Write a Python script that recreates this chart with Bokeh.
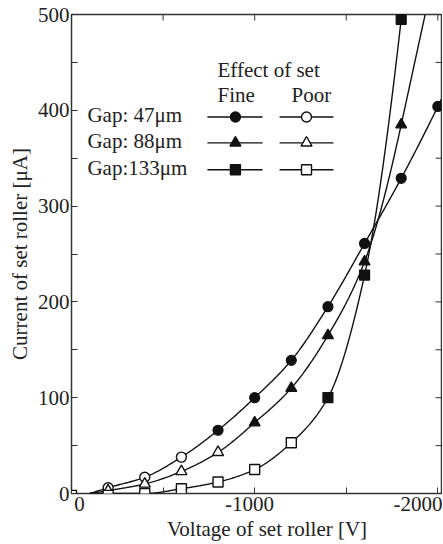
import numpy as np
from bokeh.plotting import figure
from bokeh.models import Range1d, FixedTicker
from bokeh.core.properties import value
from bokeh.embed import file_html
from bokeh.resources import INLINE

# ---------------- data ----------------
g47_poor_v = [-200, -400, -600]
g47_poor_i = [6, 17, 38]
g47_fine_v = [-800, -1000, -1200, -1400, -1600, -1800, -2000]
g47_fine_i = [66, 100, 139, 195, 261, 329, 404]

g88_poor_v = [-200, -400, -600, -800]
g88_poor_i = [3, 10, 23, 43]
g88_fine_v = [-1000, -1200, -1400, -1600, -1800]
g88_fine_i = [74, 110, 165, 242, 385]

g133_poor_v = [0, -200, -400, -600, -800, -1000, -1200]
g133_poor_i = [-2, -2, 0, 5, 12, 25, 53]
g133_fine_v = [-1400, -1600, -1800]
g133_fine_i = [100, 228, 495]

fit_start_v = -100          # fitted curves start here at 0 uA

series_names = ["Gap: 47\u03bcm", "Gap: 88\u03bcm", "Gap:133\u03bcm"]
legend_title = "Effect of set"
legend_cols = ["Fine", "Poor"]

x_ticks = [0, -500, -1000, -1500, -2000]
x_tick_labels = {0: "0", -500: "", -1000: "-1000", -1500: "", -2000: "-2000"}
y_ticks = [0, 100, 200, 300, 400, 500]
y_minor = [50, 150, 250, 350, 450]

FONT = "Liberation Serif"
INK = "#111111"
TXT = "#222222"
NB = "\u00a0"
# non-breaking padding nudges the centred tick labels like the original typesetting
x_label_pad = {0: (3, 0), -1000: (0, 2)}


def pchip(xk, yk, xs):
    xk = np.asarray(xk, float)
    yk = np.asarray(yk, float)
    h = np.diff(xk)
    d = np.diff(yk) / h
    n = len(xk)
    m = np.zeros(n)
    for k in range(1, n - 1):
        if d[k - 1] * d[k] > 0:
            w1 = 2 * h[k] + h[k - 1]
            w2 = h[k] + 2 * h[k - 1]
            m[k] = (w1 + w2) / (w1 / d[k - 1] + w2 / d[k])

    def endslope(h0, h1, d0, d1):
        s = ((2 * h0 + h1) * d0 - h0 * d1) / (h0 + h1)
        if np.sign(s) != np.sign(d0):
            s = 0.0
        elif np.sign(d0) != np.sign(d1) and abs(s) > abs(3 * d0):
            s = 3 * d0
        return s

    m[0] = endslope(h[0], h[1], d[0], d[1])
    m[-1] = endslope(h[-1], h[-2], d[-1], d[-2])
    out = []
    for x in xs:
        if x >= xk[-1]:
            out.append(yk[-1] + m[-1] * (x - xk[-1]))
            continue
        i = min(max(np.searchsorted(xk, x) - 1, 0), n - 2)
        t = (x - xk[i]) / h[i]
        h00 = 2 * t**3 - 3 * t**2 + 1
        h10 = t**3 - 2 * t**2 + t
        h01 = -2 * t**3 + 3 * t**2
        h11 = t**3 - t**2
        out.append(h00 * yk[i] + h10 * h[i] * m[i] + h01 * yk[i + 1] + h11 * h[i] * m[i + 1])
    return np.array(out)


X_END = -2020
Y_END = 500
p = figure(width=442, height=543, x_range=Range1d(0, X_END), y_range=Range1d(0, Y_END),
           output_backend="svg", toolbar_location=None,
           min_border_left=71, min_border_right=1, min_border_top=14, min_border_bottom=49)
p.grid.visible = False
p.outline_line_color = "#333333"
p.outline_line_width = 1.5
p.background_fill_color = "white"
p.border_fill_color = "white"

# bottom axis
xa = p.xaxis[0]
xa.ticker = FixedTicker(ticks=x_ticks, minor_ticks=[])
overrides = {}
for t, s in x_tick_labels.items():
    lpad, rpad = x_label_pad.get(t, (0, 0))
    overrides[t] = NB * lpad + s + NB * rpad
xa.major_label_overrides = overrides
xa.axis_line_color = None
xa.major_tick_in = 6
xa.major_tick_out = 0
xa.major_tick_line_color = "#333333"
xa.major_label_text_font = FONT
xa.major_label_text_font_size = "21px"
xa.major_label_text_color = TXT
xa.major_label_standoff = -2
xa.axis_label = NB * 4 + "Voltage of set roller [V]"
xa.axis_label_text_font = FONT
xa.axis_label_text_font_size = "21px"
xa.axis_label_text_font_style = "normal"
xa.axis_label_text_color = TXT
xa.axis_label_standoff = -2

# left axis
ya = p.yaxis[0]
ya.ticker = FixedTicker(ticks=y_ticks, minor_ticks=y_minor)
ya.axis_line_color = None
ya.major_tick_in = 6
ya.major_tick_out = 0
ya.minor_tick_in = 6
ya.minor_tick_out = 0
ya.major_tick_line_color = "#333333"
ya.minor_tick_line_color = "#333333"
ya.major_label_text_font = FONT
ya.major_label_text_font_size = "21px"
ya.major_label_text_color = TXT
ya.major_label_standoff = 2
ya.axis_label = "Current of set roller [\u03bcA]"
ya.axis_label_text_font = FONT
ya.axis_label_text_font_size = "21px"
ya.axis_label_text_font_style = "normal"
ya.axis_label_text_color = TXT
ya.axis_label_standoff = 3

# mirrored inward ticks on the top and right frame edges (half of each dash is clipped)
p.scatter([X_END] * len(y_ticks + y_minor), y_ticks + y_minor, marker="dash", size=12,
          line_color="#333333", line_width=1)
p.scatter(x_ticks, [Y_END] * len(x_ticks), marker="dash", size=12, angle=np.pi / 2,
          line_color="#333333", line_width=1)

# ---------------- curves and points ----------------
series = [
    (g47_poor_v, g47_poor_i, g47_fine_v, g47_fine_i, "circle"),
    (g88_poor_v, g88_poor_i, g88_fine_v, g88_fine_i, "triangle"),
    (g133_poor_v, g133_poor_i, g133_fine_v, g133_fine_i, "square"),
]
MSIZE = {"circle": 10, "triangle": 11, "square": 10}

for pv, pi, fv, fi, marker in series:
    v_all = [v for v in pv + fv if v < 0]
    i_all = [max(i, 0) for v, i in zip(pv + fv, pi + fi) if v < 0]
    u_k = [-fit_start_v] + [-v for v in v_all]
    y_k = [0] + i_all
    us = np.linspace(-fit_start_v, -X_END, 400)
    ys = pchip(u_k, y_k, us)
    p.line(-us, ys, line_color=INK, line_width=1.4)
    p.scatter(pv, pi, marker=marker, size=MSIZE[marker], fill_color="white",
              line_color=INK, line_width=1.4)
    p.scatter(fv, fi, marker=marker, size=MSIZE[marker], fill_color=INK,
              line_color=INK, line_width=1.2)

# ---------------- legend (placed in data space) ----------------
LEG_TITLE = (-797, 442)
LEG_COL_X = [-797, -1201]
LEG_COL_Y = 416
LEG_NAME_X = -87
LEG_ROW_Y = [393, 366, 338]
LEG_FINE = (-742, -895, -1043)
LEG_POOR = (-1136, -1283, -1430)

txt_kw = dict(text_align="left", text_baseline="middle", text_font_size="21px",
              text_color=TXT, text_font=value(FONT))

p.text(x=[LEG_TITLE[0]], y=[LEG_TITLE[1]], text=[legend_title], **txt_kw)
p.text(x=LEG_COL_X, y=[LEG_COL_Y] * 2, text=legend_cols, **txt_kw)
p.text(x=[LEG_NAME_X] * 3, y=LEG_ROW_Y, text=series_names, y_offset=-2, **txt_kw)
for (pv, pi, fv, fi, marker), ry in zip(series, LEG_ROW_Y):
    for (x0, xm, x1), fill in ((LEG_FINE, INK), (LEG_POOR, "white")):
        p.line([x0, x1], [ry, ry], line_color=INK, line_width=1.4)
        p.scatter([xm], [ry], marker=marker, size=MSIZE[marker], fill_color=fill,
                  line_color=INK, line_width=1.4)

open("out.html", "w").write(file_html(p, INLINE))
